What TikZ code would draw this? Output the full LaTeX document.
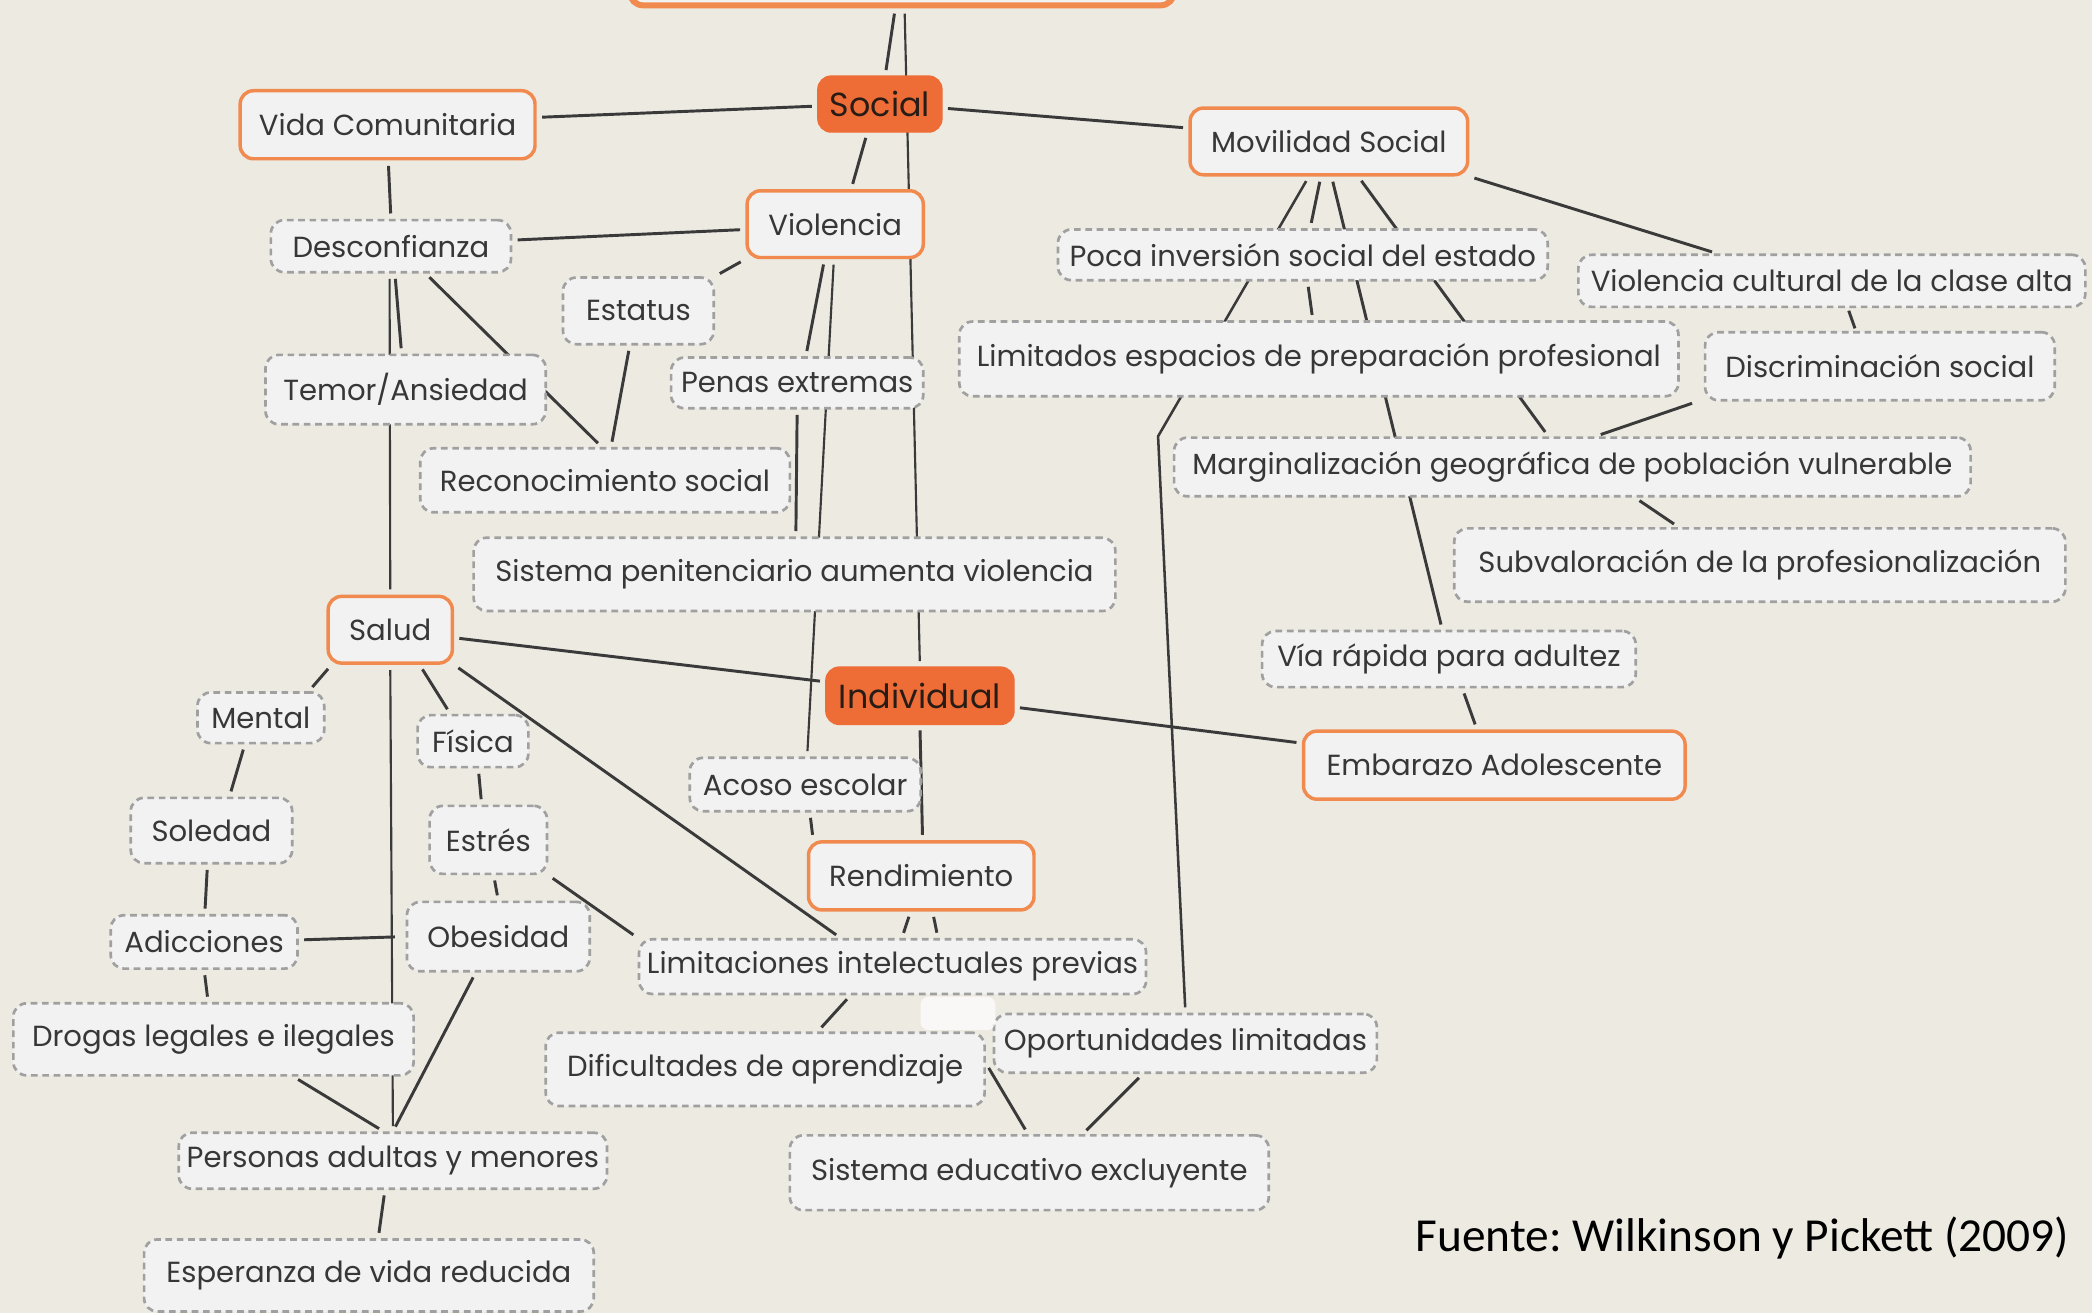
\documentclass[tikz,border=0pt]{standalone}
\usepackage{fontspec}
\setmainfont{Poppins}
\newfontfamily\srcfont{Carlito}
\definecolor{bgc}{RGB}{237,234,225}
\definecolor{boxfill}{RGB}{242,242,242}
\definecolor{obord}{RGB}{241,138,78}
\definecolor{ofill}{RGB}{238,108,54}
\definecolor{dgray}{RGB}{160,160,160}
\definecolor{lin}{RGB}{58,58,58}
\definecolor{txt}{RGB}{55,55,55}
\definecolor{dtxt}{RGB}{40,28,22}
\pgfdeclarelayer{back}
\pgfdeclarelayer{lines}
\pgfsetlayers{back,lines,main}
\tikzset{
 box/.style={rounded corners=10pt, fill=boxfill, text=txt, inner sep=0pt, font=\fontsize{21.8}{26}\selectfont},
 obox/.style={box, draw=obord, line width=2.6pt},
 dbox/.style={box, draw=dgray, line width=2pt, dash pattern=on 5pt off 3.5pt},
 fbox/.style={box, fill=ofill, draw=ofill, line width=1pt, text=dtxt, font=\fontsize{25}{30}\selectfont},
 conn/.style={draw=lin, line width=2.2pt, shorten <=4pt, shorten >=4pt},
 thinln/.style={line width=1.6pt},
}
\begin{document}
\frenchspacing
\begin{tikzpicture}[x=1pt,y=-1pt]
\useasboundingbox (0,0) rectangle (1568,984);
\begin{pgfonlayer}{back}
\fill[bgc] (0,0) rectangle (1568,984);
\end{pgfonlayer}
% nodes
\node[obox, line width=4.5pt, minimum width=408pt, minimum height=64pt] (top) at (676,-28) {};
\node[fbox, minimum width=93pt, minimum height=42pt] (soc) at (659.5,78) {Social};
\node[obox, minimum width=221pt, minimum height=51pt] (vida) at (290.5,93.5) {Vida Comunitaria};
\node[obox, minimum width=208pt, minimum height=50pt] (mov) at (996,106) {Movilidad Social};
\node[obox, minimum width=132pt, minimum height=50pt] (viol) at (626,168) {Violencia};
\node[dbox, minimum width=180pt, minimum height=39pt] (desc) at (293,184.5) {Desconfianza};
\node[dbox, minimum width=113pt, minimum height=50pt] (est) at (478.5,233) {Estatus};
\node[dbox, minimum width=210pt, minimum height=52pt] (temor) at (304,292) {Temor/Ansiedad};
\node[dbox, minimum width=189pt, minimum height=38pt] (penas) at (597.5,287) {Penas extremas};
\node[dbox, minimum width=277pt, minimum height=48pt] (recon) at (453.5,360) {Reconocimiento social};
\node[dbox, minimum width=481pt, minimum height=55pt] (sispen) at (595.5,430.5) {Sistema penitenciario aumenta violencia};
\node[dbox, minimum width=367pt, minimum height=38pt] (poca) at (976.5,191) {Poca inversión social del estado};
\node[dbox, minimum width=380pt, minimum height=39pt] (vcult) at (1373,210.5) {Violencia cultural de la clase alta};
\node[dbox, minimum width=539pt, minimum height=56pt] (limtd) at (988.5,269) {Limitados espacios de preparación profesional};
\node[dbox, minimum width=262pt, minimum height=51pt] (discr) at (1409,274.5) {Discriminación social};
\node[dbox, minimum width=597pt, minimum height=44pt] (marg) at (1178.5,350) {Marginalización geográfica de población vulnerable};
\node[dbox, minimum width=458pt, minimum height=55pt] (subv) at (1319,423.5) {Subvaloración de la profesionalización};
\node[dbox, minimum width=280pt, minimum height=42pt] (via) at (1086,494) {Vía rápida para adultez};
\node[obox, minimum width=286pt, minimum height=51pt] (emb) at (1120,573.5) {Embarazo Adolescente};
\node[fbox, minimum width=141pt, minimum height=43pt] (ind) at (689.5,521.5) {Individual};
\node[obox, minimum width=93pt, minimum height=50pt] (salud) at (292.5,472) {Salud};
\node[dbox, minimum width=95pt, minimum height=38pt] (mental) at (195.5,538) {Mental};
\node[dbox, minimum width=83pt, minimum height=39pt] (fisica) at (354.5,555.5) {Física};
\node[dbox, minimum width=173pt, minimum height=40pt] (acoso) at (603.5,588) {Acoso escolar};
\node[dbox, minimum width=121pt, minimum height=49pt] (soled) at (158.5,622.5) {Soledad};
\node[dbox, minimum width=88pt, minimum height=51pt] (estres) at (366,629.5) {Estrés};
\node[obox, minimum width=169pt, minimum height=51pt] (rend) at (690.5,656.5) {Rendimiento};
\node[dbox, minimum width=140pt, minimum height=40pt] (adicc) at (153,706) {Adicciones};
\node[dbox, minimum width=137pt, minimum height=52pt] (obes) at (373.5,702) {Obesidad};
\node[dbox, minimum width=380pt, minimum height=41pt] (limit) at (669,724.5) {Limitaciones intelectuales previas};
\node[dbox, minimum width=300pt, minimum height=54pt] (drogas) at (160,779) {Drogas legales e ilegales};
\node[dbox, minimum width=329pt, minimum height=55pt] (dific) at (573.5,801.5) {Dificultades de aprendizaje};
\node[dbox, minimum width=287pt, minimum height=44pt] (oport) at (888.5,782) {Oportunidades limitadas};
\node[dbox, minimum width=321pt, minimum height=42pt] (pers) at (294.5,870) {Personas adultas y menores};
\node[dbox, minimum width=359pt, minimum height=56pt] (sised) at (771.5,879) {Sistema educativo excluyente};
\node[dbox, minimum width=337pt, minimum height=54pt] (esper) at (276.5,956) {Esperanza de vida reducida};
\node[anchor=east, inner sep=0pt, font=\srcfont\fontsize{35.5}{40}\selectfont, text=black] (src) at (1551,928) {Fuente: Wilkinson y Pickett (2009)};
\fill[white, opacity=0.7, rounded corners=6pt] (690,747) rectangle (746,772);
\coordinate (bend1) at (868,327);
% connectors
\begin{pgfonlayer}{lines}
\draw[conn] ([xshift=-5pt]top.south) -- ([xshift=4pt]soc.north);
\draw[conn,thinln] ([xshift=2pt]top.south) -- (ind.north);
\draw[conn] ([yshift=-1.5pt]soc.west) -- ([yshift=5.5pt]vida.east);
\draw[conn] ([yshift=-3pt]soc.east) -- ([yshift=10pt]mov.west);
\draw[conn] ([xshift=-9.5pt]soc.south) -- ([xshift=12pt]viol.north);
\draw[conn] ([xshift=0.5pt]vida.south) -- (desc.north);
\draw[conn] ([yshift=-4pt]viol.west) -- ([yshift=4.5pt]desc.east);
\draw[conn] (viol.south west) -- (est.north east);
\draw[conn] ([xshift=-8pt]viol.south) -- ([xshift=6.5pt]penas.north);
\draw[conn] (penas.south) -- ([xshift=1pt]sispen.north);
\draw[conn,thinln] ([xshift=-1pt]viol.south) -- ([xshift=1.5pt]acoso.north);
\draw[conn] ([xshift=3pt]desc.south) -- ([xshift=-3pt]temor.north);
\draw[conn,thinln] ([xshift=-1pt]desc.south) -- (salud.north);
\draw[conn] ([xshift=26pt]desc.south) -- ([xshift=-2.5pt]recon.north);
\draw[conn] ([xshift=-6.5pt]est.south) -- ([xshift=4.5pt]recon.north);
\draw[conn] ([yshift=-6pt]salud.east) -- ([yshift=10.5pt]ind.west);
\draw[conn] ([xshift=-44pt]salud.south) -- ([xshift=36pt]mental.north);
\draw[conn] ([xshift=22pt]salud.south) -- ([xshift=-17pt]fisica.north);
\draw[conn] (salud.south east) -- ([xshift=-39pt]limit.north);
\draw[conn,thinln] (salud.south) -- (pers.north);
\draw[conn] ([xshift=-12pt]mental.south) -- ([xshift=13.5pt]soled.north);
\draw[conn] ([xshift=-3pt]soled.south) -- ([xshift=0.5pt]adicc.north);
\draw[conn, shorten >=8pt] ([yshift=1.5pt]adicc.east) -- (obes.west);
\draw[conn] (adicc.south) -- ([xshift=-4pt]drogas.north);
\draw[conn] ([xshift=4pt]fisica.south) -- ([xshift=-5pt]estres.north);
\draw[conn] ([xshift=4pt]estres.south) -- (obes.north);
\draw[conn] (estres.south east) -- (limit.north west);
\draw[conn] ([xshift=-17pt]obes.south) -- (pers.north);
\draw[conn] ([xshift=60pt]drogas.south) -- ([xshift=-7pt]pers.north);
\draw[conn] ([xshift=-6pt]pers.south) -- ([xshift=7pt]esper.north);
\draw[conn] (ind.south) -- ([xshift=1pt]rend.north);
\draw[conn] ([xshift=3.5pt]acoso.south) -- ([xshift=-81pt]rend.north);
\draw[conn] ([yshift=-8.5pt]ind.east) -- ([yshift=16.5pt]emb.west);
\draw[conn] ([xshift=-8pt]rend.south) -- ([xshift=7pt]limit.north);
\draw[conn] ([xshift=8.5pt]rend.south) -- ([xshift=34pt]limit.north);
\draw[conn] ([xshift=-31.5pt]limit.south) -- ([xshift=39.5pt]dific.north);
\draw[conn] ([yshift=4.5pt]dific.east) -- ([xshift=-1pt]sised.north);
\draw[conn] ([xshift=-32pt]oport.south) -- ([xshift=40pt]sised.north);
\draw[conn] ([xshift=-6pt]mov.south) -- ([xshift=5.5pt]poca.north);
\draw[conn,line width=1.9pt] ([xshift=-15pt]mov.south) -- (bend1) -- (oport.north);
\draw[conn] ([xshift=2pt]mov.south) -- ([xshift=-5pt]via.north);
\draw[conn] ([xshift=22pt]mov.south) -- ([xshift=-18pt]marg.north);
\draw[conn] ([xshift=3.5pt]poca.south) -- ([xshift=-4.5pt]limtd.north);
\draw[conn] (mov.south east) -- ([xshift=-86pt]vcult.north);
\draw[conn, shorten <=2pt, shorten >=2pt] ([xshift=12pt]vcult.south) -- ([xshift=-18pt]discr.north);
\draw[conn] ([xshift=-137pt]discr.south) -- ([xshift=17.5pt]marg.north);
\draw[conn] ([xshift=47pt]marg.south) -- ([xshift=-61pt]subv.north);
\draw[conn] ([xshift=10pt]via.south) -- ([xshift=-13pt]emb.north);
\end{pgfonlayer}
\end{tikzpicture}
\end{document}
